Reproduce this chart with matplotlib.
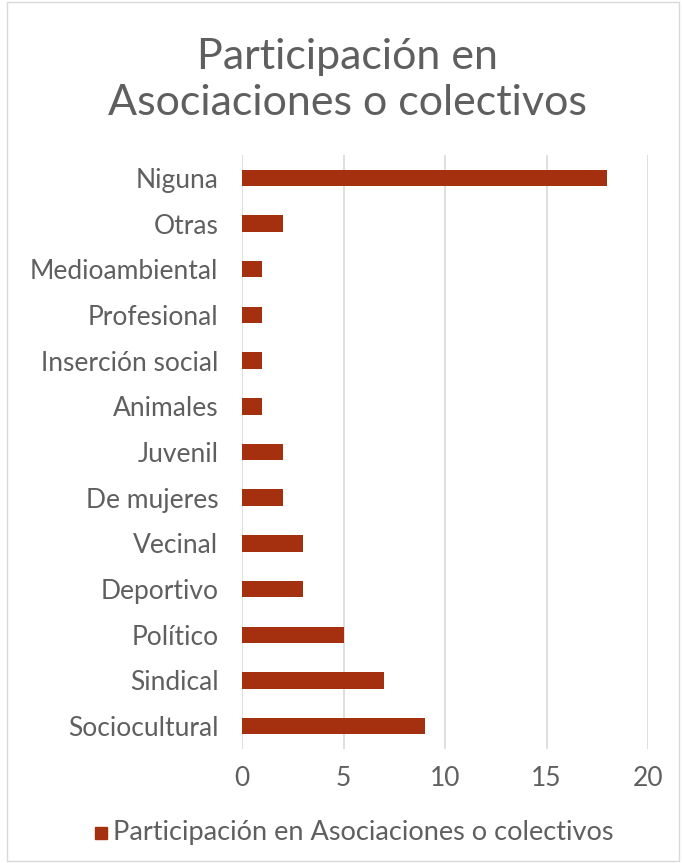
#!/usr/bin/env python3

import matplotlib.pyplot as plt
from matplotlib.patches import Rectangle

categories = ['Sociocultural', 'Sindical', 'Político', 'Deportivo', 'Vecinal',
              'De mujeres', 'Juvenil', 'Animales', 'Inserción social',
              'Profesional', 'Medioambiental', 'Otras', 'Niguna']
values = [9, 7, 5, 3, 3, 2, 2, 1, 1, 1, 1, 2, 18]
xticks = [0, 5, 10, 15, 20]
series_name = 'Participación en Asociaciones o colectivos'

bar_color = '#A5300F'
text_color = '#5f5f5f'
grid_color = '#D9D9D9'

plt.rcParams['font.family'] = ['Lato', 'DejaVu Sans']

fig = plt.figure(figsize=(6.82, 8.63), dpi=100)
# plot area in figure fractions (pixels / size)
ax = fig.add_axes([242 / 682, 1 - 749 / 863, (648 - 242) / 682, (749 - 155) / 863])

ax.barh(range(len(categories)), values, height=0.36, color=bar_color, zorder=3)
ax.set_ylim(-0.5, len(categories) - 0.5)
ax.set_xlim(0, 20)
ax.set_xticks(xticks)
ax.set_yticks(range(len(categories)))
ax.set_yticklabels(categories)
ax.tick_params(axis='both', length=0, labelsize=19, labelcolor=text_color)
ax.tick_params(axis='x', pad=12)
ax.tick_params(axis='y', pad=17)
ax.grid(axis='x', color=grid_color, linewidth=1.2, zorder=0)
for s in ax.spines.values():
    s.set_visible(False)

fig.text(0.51, 1 - 80 / 863, 'Participación en\nAsociaciones o colectivos',
         ha='center', va='center', fontsize=31, color=text_color,
         linespacing=1.28)

# legend
fig.patches.append(Rectangle((95 / 682, 1 - 839 / 863), 12 / 682, 12 / 863,
                             transform=fig.transFigure, color=bar_color))
fig.text(113 / 682, 1 - 832 / 863, series_name, ha='left', va='center',
         fontsize=19.5, color=text_color)

# chart border
fig.patches.append(Rectangle((7 / 682, 2 / 863), 672 / 682, 859 / 863,
                             transform=fig.transFigure, fill=False,
                             edgecolor=grid_color, linewidth=1))

fig.savefig('out.png', dpi=100)
